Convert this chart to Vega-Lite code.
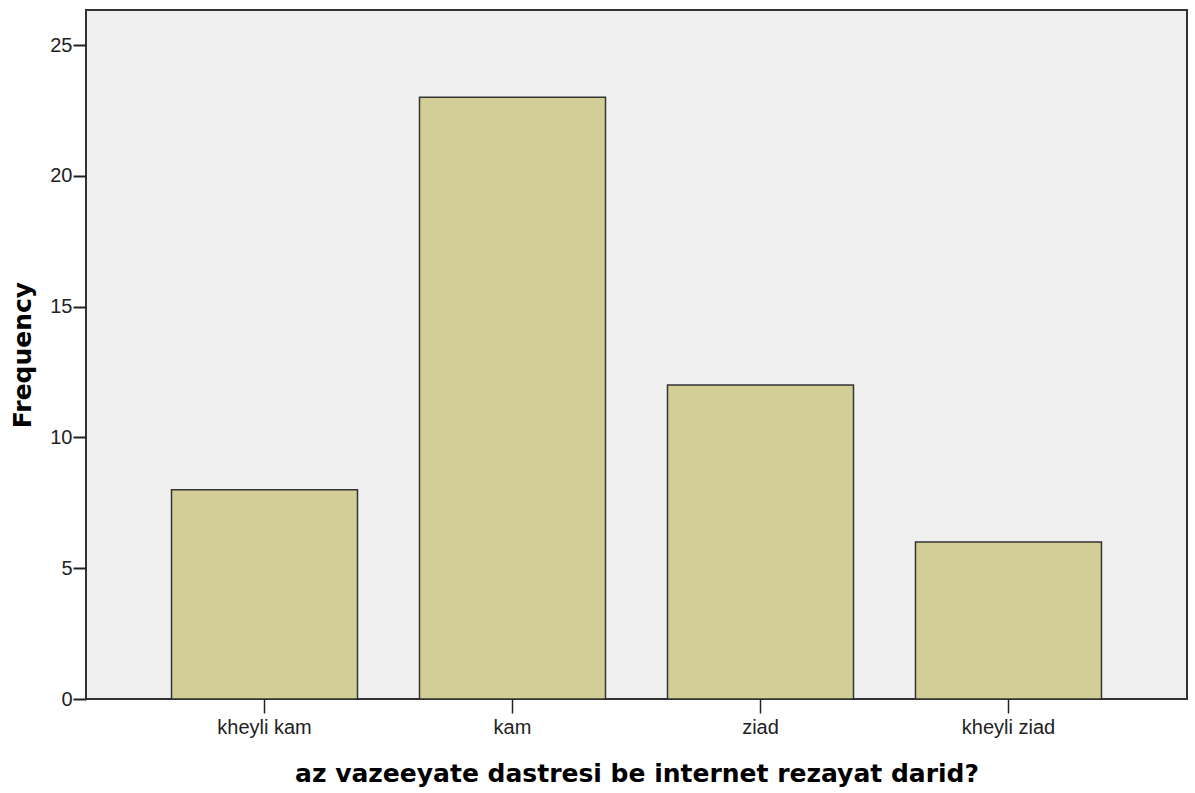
{
  "$schema": "https://vega.github.io/schema/vega-lite/v6.json",
  "width": 1101,
  "height": 689,
  "autosize": {"type": "none"},
  "padding": {"left": 86, "top": 10, "right": 8, "bottom": 94},
  "background": "white",
  "view": {"fill": "#f0f0f0", "stroke": "#333333", "strokeWidth": 2},
  "data": {
    "values": [
      {"category": "kheyli kam", "frequency": 8},
      {"category": "kam", "frequency": 23},
      {"category": "ziad", "frequency": 12},
      {"category": "kheyli ziad", "frequency": 6}
    ]
  },
  "mark": {"type": "bar", "fill": "#d3ce97", "stroke": "#333333", "strokeWidth": 1.5},
  "encoding": {
    "x": {
      "field": "category",
      "type": "nominal",
      "sort": null,
      "scale": {"paddingInner": 0.25, "paddingOuter": 0.3448},
      "axis": {
        "title": "az vazeeyate dastresi be internet rezayat darid?",
        "titleFont": "DejaVu Sans",
        "titleFontSize": 25,
        "titleFontWeight": "bold",
        "titleColor": "#000000",
        "titlePadding": 24,
        "labelFont": "Liberation Sans",
        "labelFontSize": 20,
        "labelColor": "#222222",
        "labelAngle": 0,
        "labelPadding": 4,
        "tickSize": 14,
        "tickColor": "#222222",
        "tickWidth": 1.5,
        "domain": false,
        "grid": false
      }
    },
    "y": {
      "field": "frequency",
      "type": "quantitative",
      "scale": {"domain": [0, 26.34], "nice": false},
      "axis": {
        "title": "Frequency",
        "titleFont": "DejaVu Sans",
        "titleFontSize": 25,
        "titleFontWeight": "bold",
        "titleColor": "#000000",
        "titlePadding": 14,
        "values": [0, 5, 10, 15, 20, 25],
        "labelFont": "Liberation Sans",
        "labelFontSize": 20,
        "labelColor": "#222222",
        "labelPadding": 1,
        "tickSize": 13,
        "tickColor": "#222222",
        "tickWidth": 2,
        "domain": false,
        "grid": false
      }
    }
  }
}
